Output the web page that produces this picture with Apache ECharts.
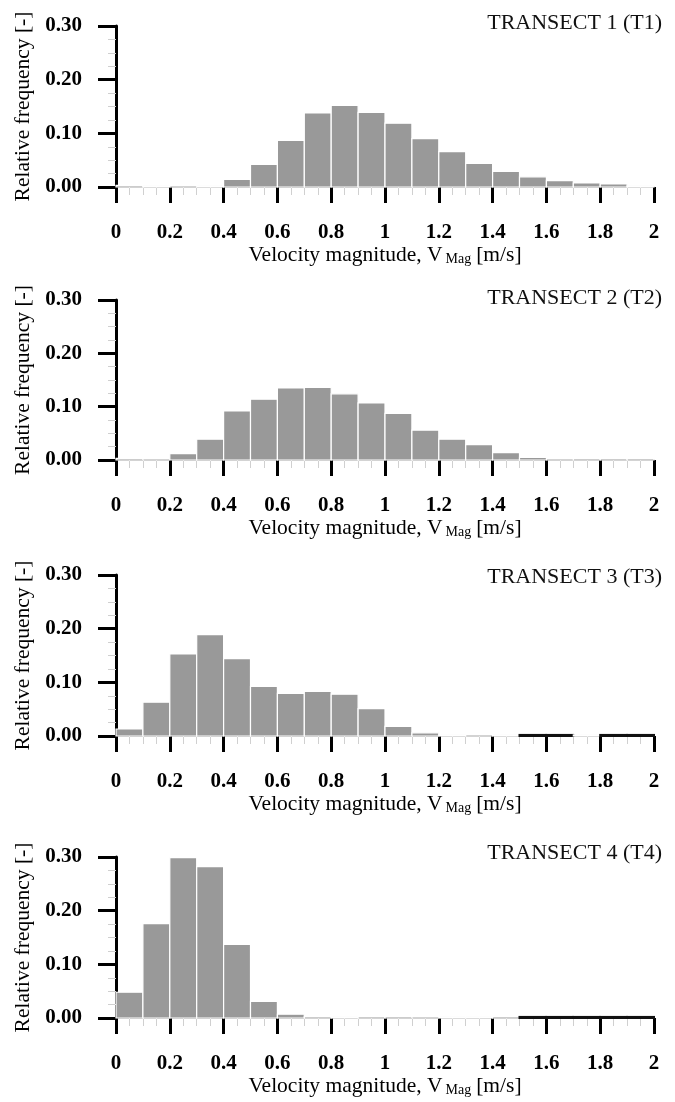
<!DOCTYPE html>
<html><head><meta charset="utf-8">
<script src="https://cdn.jsdelivr.net/npm/echarts@6/dist/echarts.min.js"></script>
<style>html,body{margin:0;padding:0;background:#fff}#c{width:675px;height:1102px}</style>
</head><body><div id="c"></div>
<script>
// bins (m/s)
const binStarts = [0.0,0.1,0.2,0.3,0.4,0.5,0.6,0.7,0.8,0.9,1.0,1.1,1.2,1.3,1.4,1.5,1.6,1.7,1.8,1.9];
const binEnds   = [0.1,0.2,0.3,0.4,0.5,0.6,0.7,0.8,0.9,1.0,1.1,1.2,1.3,1.4,1.5,1.6,1.7,1.8,1.9,2.0];
// relative frequencies per transect
const t1 = [0.003,0.002,0.000,0.002,0.014,0.042,0.087,0.138,0.152,0.139,0.119,0.090,0.066,0.044,0.029,0.019,0.012,0.0075,0.0056,0.002];
const t2 = [0.003,0.000,0.012,0.039,0.092,0.114,0.135,0.136,0.124,0.107,0.0875,0.056,0.039,0.029,0.014,0.005,0.000,0.003,0.003,0.003];
const t3 = [0.013,0.063,0.153,0.189,0.144,0.0925,0.0795,0.083,0.078,0.051,0.018,0.006,0.002,0.000,0.002,0.002,0.002,0.002,0.002,0.002];
const t4 = [0.048,0.176,0.299,0.282,0.137,0.031,0.007,0.003,0.002,0.003,0.003,0.000,0.002,0.002,0.003,0.002,0.002,0.002,0.002,0.002];
const series = [t1, t2, t3, t4];
// bins that appear drawn with a dark outline in the source
const darkBins = [[], [], [15,16,18,19], [15,16,17,18,19]];
const titles = ['TRANSECT 1 (T1)','TRANSECT 2 (T2)','TRANSECT 3 (T3)','TRANSECT 4 (T4)'];
const xTickLabels = ['0','0.2','0.4','0.6','0.8','1','1.2','1.4','1.6','1.8','2'];
const yTickLabels = ['0.00','0.10','0.20','0.30'];
const xName = '{a|Velocity magnitude, V}{s|Mag}{a|[m/s]}';
const yName = 'Relative frequency [-]';

const FONT = '"Liberation Serif", "Times New Roman", serif';
const gridTops = [26, 300, 575, 857];
const gridHeights = [161, 160, 161, 161];
const titleTops = [7, 282, 561, 837];

function renderItem(params, api) {
  const x0 = api.value(0), x1 = api.value(1), v = api.value(2), dark = api.value(3);
  const p0 = api.coord([x0, v]);
  const p1 = api.coord([x1, 0]);
  return {
    type: 'rect',
    shape: { x: p0[0], y: p0[1], width: p1[0] - p0[0], height: p1[1] - p0[1] },
    style: dark ? { fill: '#111', stroke: '#111', lineWidth: 2 }
                : { fill: '#999999', stroke: '#ffffff', lineWidth: 1.2 }
  };
}

const grid = [], xAxis = [], yAxis = [], ser = [], title = [];
for (let i = 0; i < 4; i++) {
  grid.push({ left: 116, right: 21, top: gridTops[i], height: gridHeights[i] });
  title.push({ text: titles[i], right: 8, top: titleTops[i],
    textStyle: { fontFamily: FONT, fontSize: 22, fontWeight: 'normal', color: '#111' } });
  xAxis.push({
    type: 'value', gridIndex: i, min: 0, max: 2, interval: 0.2,
    axisLine: { show: true, onZero: false, lineStyle: { color: '#8a8a8a', width: 1.5 } },
    axisTick: { show: true, length: 16, lineStyle: { color: '#000', width: 3 } },
    minorTick: { show: true, splitNumber: 4, length: 8, lineStyle: { color: '#d0d0d0', width: 1 } },
    splitLine: { show: false },
    axisLabel: { margin: 35, fontFamily: FONT, fontSize: 21, fontWeight: 'bold', color: '#000',
      formatter: v => xTickLabels[Math.round(v / 0.2)] },
    name: xName, nameLocation: 'middle', nameGap: 56,
    nameTextStyle: { fontFamily: FONT, fontSize: 21, color: '#000',
      rich: {
        a: { fontFamily: FONT, fontSize: 21.5, color: '#000' },
        s: { fontFamily: FONT, fontSize: 14, color: '#000', verticalAlign: 'bottom', padding: [9, 5, 0, 3] }
      } }
  });
  yAxis.push({
    type: 'value', gridIndex: i, min: 0, max: 0.3, interval: 0.1,
    axisLine: { show: true, lineStyle: { color: '#000', width: 3 } },
    axisTick: { show: true, length: 18, lineStyle: { color: '#000', width: 3 } },
    minorTick: { show: true, splitNumber: 4, length: 8, lineStyle: { color: '#d0d0d0', width: 1 } },
    splitLine: { show: false },
    axisLabel: { margin: 34, fontFamily: FONT, fontSize: 21, fontWeight: 'bold', color: '#000',
      formatter: v => yTickLabels[Math.round(v / 0.1)] },
    name: yName, nameLocation: 'middle', nameGap: 80,
    nameTextStyle: { fontFamily: FONT, fontSize: 21.5, color: '#000' }
  });
  const data = binStarts.map((s, k) => [s, binEnds[k], series[i][k], darkBins[i].includes(k) ? 1 : 0]);
  ser.push({
    type: 'custom', xAxisIndex: i, yAxisIndex: i, renderItem,
    encode: { x: [0, 1], y: 2 }, data, silent: true
  });
}

const chart = echarts.init(document.getElementById('c'), null, { renderer: 'canvas' });
chart.setOption({ animation: false, backgroundColor: '#fff', title, grid, xAxis, yAxis, series: ser });
</script></body></html>
